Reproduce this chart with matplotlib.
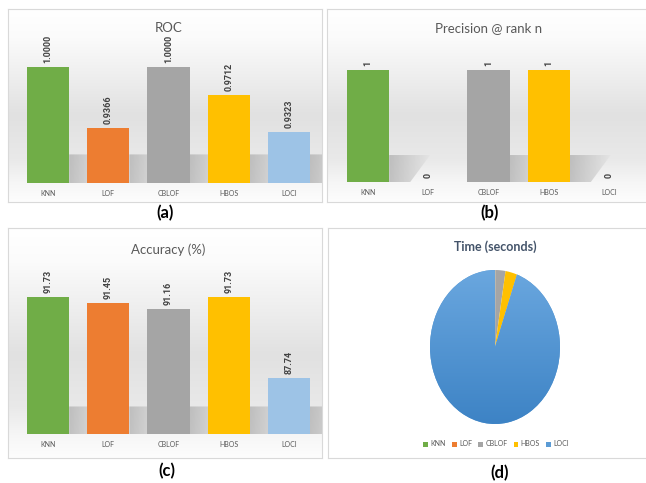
import matplotlib
matplotlib.use('Agg')
import matplotlib.pyplot as plt
import numpy as np
from matplotlib.patches import Rectangle, Polygon
from matplotlib.colors import LinearSegmentedColormap
import matplotlib.transforms as mtransforms

plt.rcParams['font.family'] = ['Lato', 'DejaVu Sans']

# ---------------- data ----------------
methods = ['KNN', 'LOF', 'CBLOF', 'HBOS', 'LOCI']
bar_colors = ['#70AD47', '#ED7D31', '#A5A5A5', '#FFC000', '#9DC3E6']
pie_colors = ['#70AD47', '#ED7D31', '#A5A5A5', '#FFC000', '#5B9BD5']

roc = [1.0000, 0.9366, 1.0000, 0.9712, 0.9323]
roc_labels = ['1.0000', '0.9366', '1.0000', '0.9712', '0.9323']

precision = [1, 0, 1, 1, 0]
precision_labels = ['1', '0', '1', '1', '0']

accuracy = [91.73, 91.45, 91.16, 91.73, 87.74]
accuracy_labels = ['91.73', '91.45', '91.16', '91.73', '87.74']

time_share = [0.05, 0.05, 2.5, 2.9, 94.5]

# ---------------- layout helpers ----------------
W, H = 646, 483
fig = plt.figure(figsize=(W / 100, H / 100), dpi=100)


def box(x0, y0, x1, y1):
    return [x0 / W, 1 - y1 / H, (x1 - x0) / W, (y1 - y0) / H]


def fx(x):
    return x / W


def fy(y):
    return 1 - y / H


bg_cmap = LinearSegmentedColormap.from_list(
    'bg', [(0.0, '#ffffff'), (0.15, '#fbfbfb'), (0.55, '#e1e1e1'),
           (0.78, '#e9e9e9'), (0.9, '#f6f6f6'), (1.0, '#fdfdfd')])


def panel(x0, y0, x1, y1, gradient=True):
    ax = fig.add_axes(box(x0, y0, x1, y1), zorder=0)
    if gradient:
        g = np.linspace(0, 1, 256).reshape(-1, 1)
        ax.imshow(g, cmap=bg_cmap, aspect='auto', extent=(0, 1, 0, 1),
                  vmin=0, vmax=1)
    ax.set_xlim(0, 1)
    ax.set_ylim(0, 1)
    ax.set_xticks([])
    ax.set_yticks([])
    for s in ax.spines.values():
        s.set_color('#d9d9d9')
        s.set_linewidth(0.8)
    return ax


shadow_cmap = LinearSegmentedColormap.from_list('sh', ['#b4b4b4', '#e4e4e4'])


def bar_chart(rect, values, labels, ylim, shadow_h):
    ax = fig.add_axes(box(*rect), zorder=2)
    ax.patch.set_alpha(0)
    x = np.arange(len(methods))
    trans = mtransforms.blended_transform_factory(ax.transData, ax.transAxes)
    for i, v in enumerate(values):
        if v > ylim[0]:
            poly = Polygon([(i + 0.35, 0), (i + 0.35, shadow_h),
                            (i + 1.03, shadow_h), (i + 0.70, 0)],
                           closed=True, transform=trans,
                           facecolor='none', edgecolor='none', zorder=1)
            ax.add_patch(poly)
            gh = np.linspace(0, 1, 64).reshape(1, -1)
            im = ax.imshow(gh, cmap=shadow_cmap, aspect='auto',
                           extent=(i + 0.35, i + 1.03, 0, shadow_h),
                           transform=trans, zorder=1, alpha=0.8)
            im.set_clip_path(poly)
    ax.bar(x, np.array(values) - ylim[0], bottom=ylim[0], width=0.7,
           color=bar_colors, zorder=3, edgecolor='none')
    for i, (v, lbl) in enumerate(zip(values, labels)):
        ax.annotate(lbl, (i, max(v, ylim[0])), xytext=(0, 3),
                    textcoords='offset points', rotation=90,
                    ha='center', va='bottom', fontsize=6.5,
                    fontweight='bold', color='#404040', zorder=4,
                    family=['Roboto', 'DejaVu Sans'])
    ax.set_xlim(-0.55, 4.55)
    ax.set_ylim(*ylim)
    ax.set_xticks(x)
    ax.set_xticklabels(methods, fontsize=5, color='#595959')
    ax.tick_params(axis='x', length=0, pad=5)
    ax.set_yticks([])
    for s in ax.spines.values():
        s.set_visible(False)
    return ax


# ---------------- panels ----------------
panel(8, 9, 322, 202)
panel(327, 9, 648, 202)
panel(8, 228, 322, 458)
panel(328, 228, 648, 458, gradient=False)

# (a) ROC
bar_chart((15, 40, 322, 183), roc, roc_labels, (0.88, 1.028), 0.2)
# (b) Precision @ rank n
bar_chart((335, 40, 642, 182), precision, precision_labels, (0, 1.268), 0.19)
# (c) Accuracy
bar_chart((15, 262, 322, 434), accuracy, accuracy_labels, (85, 93.47), 0.16)

# (d) Time pie
axp = fig.add_axes(box(430, 270, 560, 424), zorder=2)
wedges, _ = axp.pie(time_share, colors=pie_colors, startangle=90,
                    counterclock=False, radius=1,
                    wedgeprops=dict(linewidth=0))
g = np.linspace(0, 1, 256).reshape(-1, 1)
blue_cmap = LinearSegmentedColormap.from_list('b', ['#6aa7df', '#3d83c5'])
img = axp.imshow(g, cmap=blue_cmap, extent=(-1, 1, -1, 1), aspect='auto',
                 zorder=wedges[4].get_zorder() + 0.1)
img.set_clip_path(wedges[4])
axp.set_aspect('auto')
axp.set_xlim(-1, 1)
axp.set_ylim(-1, 1)
axp.axis('off')

handles = [Rectangle((0, 0), 1, 1, facecolor=c, edgecolor='none')
           for c in pie_colors]
fig.legend(handles, methods, loc='center', bbox_to_anchor=(fx(496), fy(444)),
           ncol=5, fontsize=5, frameon=False, handlelength=0.7,
           handleheight=0.7, handletextpad=0.3, columnspacing=0.9,
           labelcolor='#595959')

# ---------------- titles ----------------
fig.text(fx(169), fy(28), 'ROC', ha='center', va='center', fontsize=9.5,
         color='#595959')
fig.text(fx(489), fy(28), 'Precision @ rank n', ha='center', va='center',
         fontsize=9.5, color='#595959')
fig.text(fx(168), fy(250), 'Accuracy (%)', ha='center', va='center',
         fontsize=9.5, color='#595959')
fig.text(fx(495), fy(247), 'Time (seconds)', ha='center', va='center',
         fontsize=9, fontweight='bold', color='#44546A')

for lbl, x, y in [('(a)', 165, 213), ('(b)', 490, 213),
                  ('(c)', 167, 471), ('(d)', 500, 473)]:
    fig.text(fx(x), fy(y), lbl, ha='center', va='center', fontsize=12,
             fontweight='bold', color='black')

fig.savefig('out.png', dpi=100)
